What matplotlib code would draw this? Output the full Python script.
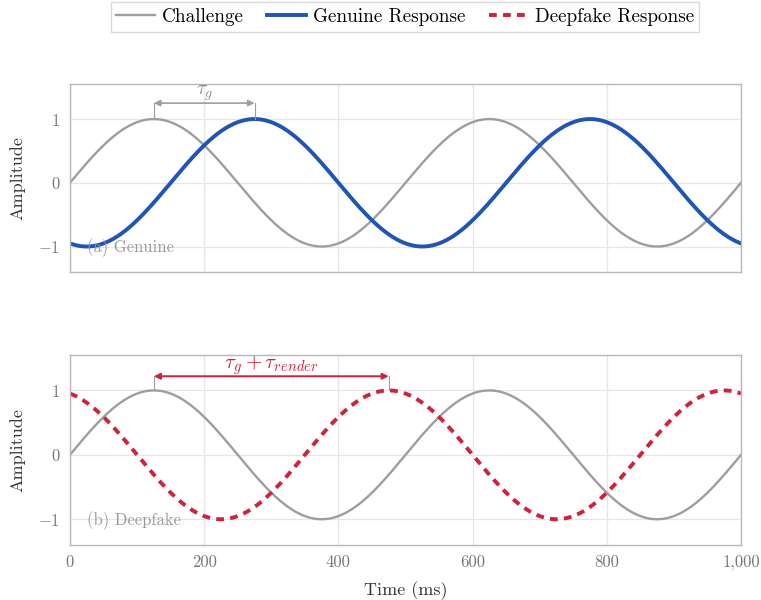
import numpy as np
import matplotlib
matplotlib.use("Agg")
import matplotlib.pyplot as plt

plt.rcParams["font.family"] = ["cmr10", "DejaVu Serif"]
plt.rcParams["mathtext.fontset"] = "cm"
plt.rcParams["axes.formatter.use_mathtext"] = True

# values
period_ms = 500
genuine_delay_ms = 150
deepfake_delay_ms = 350
challenge_peak_ms = 125
genuine_peak_ms = 275
deepfake_peak_ms = 475
x_ticks = [0, 200, 400, 600, 800, 1000]
x_tick_labels = ["0", "200", "400", "600", "800", "1,000"]
y_ticks = [-1, 0, 1]
y_tick_labels = ["$-1$", "$0$", "$1$"]

GRAY = "#9d9da5"
BLUE = "#1f55b9"
RED = "#d3203c"
TXT = "#333333"

t = np.linspace(0, 1000, 1001)
challenge = np.sin(2 * np.pi * t / period_ms)
genuine = np.sin(2 * np.pi * (t - genuine_delay_ms) / period_ms)
deepfake = np.sin(2 * np.pi * (t - deepfake_delay_ms) / period_ms)

fig = plt.figure(figsize=(7.61, 6.0), dpi=100)
ax1 = fig.add_axes([70 / 761, 1 - 272 / 600, 671 / 761, 188 / 600])
ax2 = fig.add_axes([70 / 761, 1 - 545 / 600, 671 / 761, 190 / 600])


def style(ax, show_x):
    ax.set_xlim(0, 1000)
    ax.set_ylim(-1.4, 1.55)
    ax.set_xticks(x_ticks)
    ax.set_yticks(y_ticks)
    ax.set_yticklabels(y_tick_labels)
    if show_x:
        ax.set_xticklabels(x_tick_labels)
    else:
        ax.set_xticklabels([])
    ax.grid(True, color="#e6e6e6", linewidth=0.9)
    ax.set_axisbelow(True)
    for s in ax.spines.values():
        s.set_color("#b8b8b8")
        s.set_linewidth(1.0)
    ax.tick_params(length=0, labelsize=12, colors="#777777", pad=7)
    ax.set_ylabel("Amplitude", fontsize=13, color=TXT, labelpad=9)


style(ax1, False)
style(ax2, True)

ax1.plot(t, challenge, color=GRAY, lw=1.7, label="Challenge")
ax1.plot(t, genuine, color=BLUE, lw=2.8, label="Genuine Response")
ax2.plot(t, challenge, color=GRAY, lw=1.7)
ax2.plot(t, deepfake, color=RED, lw=2.8, ls=(0, (2, 1.6)), label="Deepfake Response")

# tau_g annotation
for x in (challenge_peak_ms, genuine_peak_ms):
    ax1.plot([x, x], [1.0, 1.25], color=GRAY, lw=0.8)
ax1.annotate("", xy=(genuine_peak_ms, 1.25), xytext=(challenge_peak_ms, 1.25),
             arrowprops=dict(arrowstyle="<|-|>", color=GRAY, lw=1.2,
                             mutation_scale=9, shrinkA=0, shrinkB=0))
ax1.text((challenge_peak_ms + genuine_peak_ms) / 2, 1.4, r"$\tau_g$",
         color="#888888", fontsize=14, ha="center", va="center")

# tau_g + tau_render annotation
for x in (challenge_peak_ms, deepfake_peak_ms):
    ax2.plot([x, x], [1.0, 1.22], color=GRAY, lw=0.8)
ax2.annotate("", xy=(deepfake_peak_ms, 1.22), xytext=(challenge_peak_ms, 1.22),
             arrowprops=dict(arrowstyle="<|-|>", color=RED, lw=1.4,
                             mutation_scale=9, shrinkA=0, shrinkB=0))
ax2.text((challenge_peak_ms + deepfake_peak_ms) / 2, 1.39, r"$\tau_g + \tau_{render}$",
         color=RED, fontsize=15, ha="center", va="center")

ax1.text(25, -1.02, "(a) Genuine", color="#999999", fontsize=12, va="center")
ax2.text(25, -1.02, "(b) Deepfake", color="#999999", fontsize=12, va="center")

ax2.set_xlabel("Time (ms)", fontsize=13, color=TXT, labelpad=8)

handles = ax1.get_legend_handles_labels()[0] + ax2.get_legend_handles_labels()[0]
labels = [h.get_label() for h in handles]
leg = fig.legend(handles, labels, loc="upper center",
                 bbox_to_anchor=(405 / 761, 1.012),
                 ncol=3, fontsize=13.8, frameon=True, fancybox=False,
                 edgecolor="#d0d0d0", handlelength=2.0, columnspacing=1.2,
                 handletextpad=0.4, borderpad=0.3)
leg.get_frame().set_linewidth(1.0)

fig.savefig("out.png", dpi=100)
